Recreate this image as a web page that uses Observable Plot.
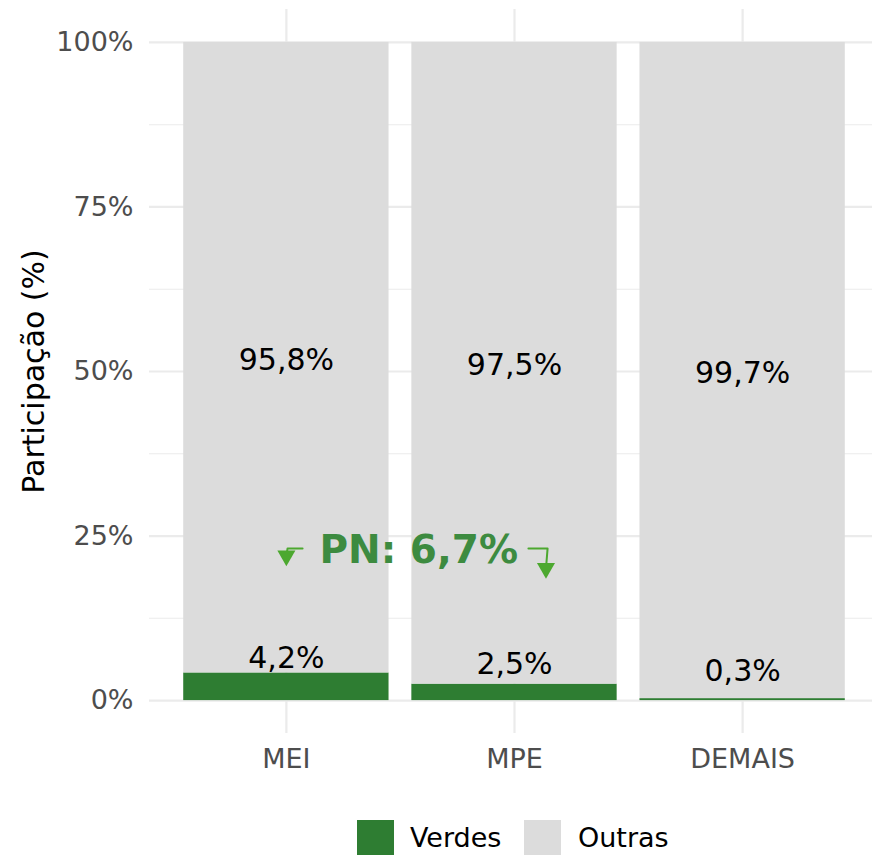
<!DOCTYPE html>
<html><head><meta charset="utf-8">
<script src="https://cdn.jsdelivr.net/npm/d3@7"></script>
<script src="https://cdn.jsdelivr.net/npm/@observablehq/plot@0.6"></script>
<style>
html,body{margin:0;padding:0;overflow:hidden;background:#fff;}
#wrap{position:relative;width:872px;height:855px;font-family:"DejaVu Sans";}
.sw{position:absolute;top:820px;width:37px;height:37px;}
.lt{position:absolute;top:819px;line-height:37px;font-size:27px;color:#000;white-space:nowrap;}
</style></head><body>
<div id="wrap"><div id="chart"></div><div id="legend"></div></div>
<script>
// ---- dados ----
const categorias = ["MEI", "MPE", "DEMAIS"];
const verdes = [4.2, 2.5, 0.3];
const outras = [95.8, 97.5, 99.7];
const grupos = ["Verdes", "Outras"];
const cores = ["#2e7d32", "#dcdcdc"];
const ticksY = [0, 25, 50, 75, 100];
const ticksYMenores = [12.5, 37.5, 62.5, 87.5];
const tituloY = "Participação (%)";
const anotacao = [{texto: "PN: 6,7%", x: 1.58, y: 22.8}];
const setas = [
  [{x: 1.071, y: 23.1}, {x: 1.005, y: 23.1}, {x: 1.0, y: 22.0}],
  [{x: 2.061, y: 23.1}, {x: 2.145, y: 23.1}, {x: 2.138, y: 20.1}]
];

const fmt = v => v.toFixed(1).replace(".", ",") + "%";
const posicoes = categorias.map((c, i) => i + 1);
const barras = categorias.flatMap((c, i) => [
  {cat: c, pos: i + 1, grupo: "Verdes", y1: 0, y2: verdes[i], valor: verdes[i]},
  {cat: c, pos: i + 1, grupo: "Outras", y1: verdes[i], y2: verdes[i] + outras[i], valor: outras[i]}
]);
const corSeta = "#4ca82f";

const chart = Plot.plot({
  width: 872,
  height: 790,
  marginTop: 9,
  marginBottom: 57,
  marginLeft: 149,
  marginRight: 0,
  style: {fontFamily: "DejaVu Sans", fontSize: "27px", color: "#4d4d4d", background: "white", overflow: "visible"},
  x: {domain: [0.4, 3.6], range: [149, 879], ticks: posicoes, tickFormat: i => categorias[i - 1], tickSize: 0, tickPadding: 15, label: null},
  y: {domain: [-5, 105], ticks: ticksY, tickFormat: d => d + "%", tickSize: 0, tickPadding: 16, label: null},
  color: {domain: grupos, range: cores},
  marks: [
    Plot.ruleY(ticksYMenores, {stroke: "#ebebeb", strokeWidth: 1.1}),
    Plot.ruleY(ticksY, {stroke: "#ebebeb", strokeWidth: 2.2}),
    Plot.ruleX(posicoes, {stroke: "#ebebeb", strokeWidth: 2.2}),
    Plot.rect(barras, {x1: d => d.pos - 0.45, x2: d => d.pos + 0.45, y1: "y1", y2: "y2", fill: "grupo"}),
    Plot.text(barras, {x: "pos", y: d => d.grupo === "Verdes" ? d.y2 / 2 + 4.7 : (d.y1 + d.y2) / 2, text: d => fmt(d.valor), fontSize: 30, fill: "black", dy: 2.6}),
    ...setas.map(s => Plot.line(s, {x: "x", y: "y", stroke: corSeta, strokeWidth: 2})),
    Plot.dot(setas.map(s => s[s.length - 1]), {x: "x", y: "y", symbol: "triangle", r: 6.7, fill: corSeta, stroke: "none", rotate: 180}),
    Plot.text(anotacao, {x: "x", y: "y", text: "texto", fontSize: 39, fontWeight: "bold", fill: "#3d8b40"}),
    Plot.text([tituloY], {frameAnchor: "left", textAnchor: "middle", text: d => d, rotate: -90, dx: -115.3, fontSize: 30, fill: "black"})
  ]
});
document.getElementById("chart").appendChild(chart);

const leg = document.getElementById("legend");
const swLeft = [357, 524], txLeft = [410, 578];
grupos.forEach((g, i) => {
  const s = document.createElement("div");
  s.className = "sw"; s.style.left = swLeft[i] + "px"; s.style.background = cores[i];
  const t = document.createElement("div");
  t.className = "lt"; t.style.left = txLeft[i] + "px"; t.textContent = g;
  leg.appendChild(s); leg.appendChild(t);
});
</script>
</body></html>
